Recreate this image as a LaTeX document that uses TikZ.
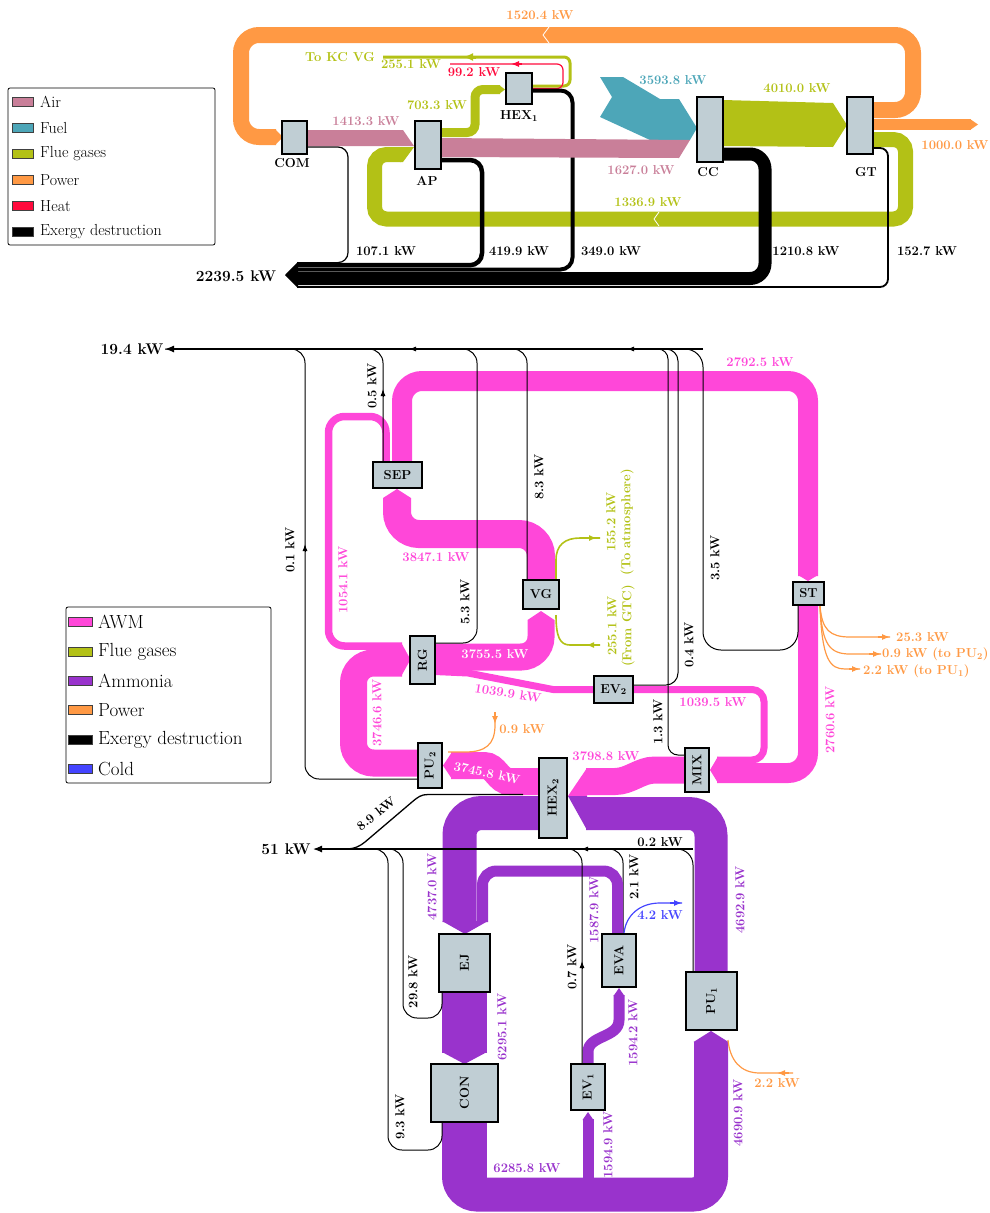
\documentclass[tikz,border=0pt]{standalone}
\usepackage{amsmath}
\usepackage{tikz}
\usetikzlibrary{arrows.meta}

\definecolor{air}{HTML}{C97F99}
\definecolor{fuel}{HTML}{4DA6B8}
\definecolor{flue}{HTML}{B3C116}
\definecolor{power}{HTML}{FF9944}
\definecolor{heat}{HTML}{FF0A3C}
\definecolor{awm}{HTML}{FF47D9}
\definecolor{ammonia}{HTML}{9933CC}
\definecolor{cold}{HTML}{4444FF}
\definecolor{boxfill}{HTML}{C0CED4}

\begin{document}
\begin{tikzpicture}[x=1pt,y=-1pt,
    compbox/.style={draw=black, line width=1.3pt, fill=boxfill, inner sep=0pt},
    bigbox/.style={compbox, line width=2.6pt},
    flowlbl/.style={font=\fontsize{13}{15}\selectfont\bfseries, inner sep=0pt},
    sumlbl/.style={font=\fontsize{15.5}{17}\selectfont\bfseries, inner sep=0pt},
    edline/.style={line width=1pt, rounded corners=14pt},
    smallarr/.style={-{Latex[length=7pt,width=5pt]}},
    legtext/.style={anchor=west, inner sep=0pt}]

\useasboundingbox (0,0) rectangle (989,1213);

% ---------------- Gas turbine cycle ----------------
% Power
\draw[power, line width=16pt, rounded corners=18pt] (873,110) -- (913,110) -- (913,35) -- (241,35) -- (241,137) -- (276,137);
\fill[power] (275,129) -- (283,137) -- (275,145) -- cycle;
\draw[power, line width=11pt] (873,124.5) -- (971,124.5);
\fill[power] (970,119) -- (978,124.5) -- (970,130) -- cycle;
\draw[white, line width=0.8pt] (549,27) -- (543,35) -- (549,43);

% Flue gases
\draw[flue, line width=15pt, rounded corners=12pt] (873,139.5) -- (905.5,139.5) -- (905.5,219) -- (374.5,219) -- (374.5,154.5) -- (401,154.5);
\fill[flue] (400,147) -- (414,147) -- (403,162) -- (400,162) -- cycle;
\draw[white, line width=0.8pt] (659,212) -- (654,219) -- (659,226);
\draw[flue, line width=9pt, rounded corners=8pt] (441,132.5) -- (475,132.5) -- (475,89.5) -- (500,89.5);
\fill[flue] (499,85) -- (505,89.5) -- (499,94) -- cycle;
\draw[flue, line width=3pt, rounded corners=6pt] (532,86) -- (570,86) -- (570,57) -- (383,57);
\draw[flue, line width=3pt, -{Latex[length=10pt,width=8pt]}] (476,57) -- (463,57);
\fill[flue] (723,100) -- (833,103) -- (847,125) -- (833,147) -- (723,146) -- cycle;

% Heat
\draw[heat, line width=1.2pt, rounded corners=6pt] (532,88.5) -- (563,88.5) -- (563,64) -- (450,64);
\draw[heat, line width=1.2pt, -{Latex[length=8pt,width=6pt]}] (522,64) -- (511,64);

% Fuel
\fill[fuel] (600,77) -- (623,77) -- (660,99) -- (679,99) -- (697,128) -- (690,140) -- (650,140) -- (600,117) -- (612,97) -- cycle;

% Exergy destruction
\draw[line width=1.2pt, rounded corners=10pt] (307,147) -- (348,147) -- (348,262.6) -- (297,262.6);
\draw[line width=4.5pt, rounded corners=12pt] (441,160) -- (482,160) -- (482,265.2) -- (297,265.2);
\draw[line width=4pt, rounded corners=12pt] (532,90.5) -- (572.5,90.5) -- (572.5,269.5) -- (297,269.5);
\draw[line width=13pt, rounded corners=15pt] (723,154) -- (765,154) -- (765,278.5) -- (297,278.5);
\draw[line width=1.8pt, rounded corners=8pt] (873,148) -- (888,148) -- (888,287) -- (297,287);
\fill (298,261.8) -- (285,275) -- (298,288) -- cycle;

% Air
\fill[air] (307,130) -- (403,130) -- (414,146) -- (307,146) -- cycle;
\fill[air] (441,138) -- (690,140) -- (679,158) -- (441,157) -- cycle;

% Components
\node[compbox, minimum width=25pt, minimum height=33pt] (com) at (294.5,137.5) {};
\node[compbox, minimum width=26pt, minimum height=48pt] (ap) at (428,145) {};
\node[compbox, minimum width=26pt, minimum height=31pt] (hexone) at (519,88.5) {};
\node[compbox, minimum width=26pt, minimum height=65pt] (cc) at (710,129.5) {};
\node[compbox, minimum width=26pt, minimum height=57pt] (gt) at (860,125.5) {};
\node[flowlbl] (comlbl) at (292,163) {COM};
\node[flowlbl] (aplbl) at (427,181) {AP};
\node[flowlbl] (hexonelbl) at (519,116) {HEX$_{\mathbf{1}}$};
\node[flowlbl] (cclbl) at (708,172) {CC};
\node[flowlbl] (gtlbl) at (866,172) {GT};

% Values
\node[flowlbl, power] (v1520) at (540,15) {1520.4 kW};
\node[flowlbl, flue] (vkc) at (340,57) {To KC VG};
\node[flowlbl, flue] (v2551a) at (411,64) {255.1 kW};
\node[flowlbl, heat] (v992) at (474,72) {99.2 kW};
\node[flowlbl, flue] (v7033) at (437,105) {703.3 kW};
\node[flowlbl, air] (v1413) at (366,121) {1413.3 kW};
\node[flowlbl, fuel] (v3593) at (673,80) {3593.8 kW};
\node[flowlbl, flue] (v4010) at (797,88) {4010.0 kW};
\node[flowlbl, air] (v1627) at (641,170) {1627.0 kW};
\node[flowlbl, flue] (v1336) at (648,202) {1336.9 kW};
\node[flowlbl, power] (v1000) at (955,145) {1000.0 kW};
\node[flowlbl] (v1071) at (386,251) {107.1 kW};
\node[flowlbl] (v4199) at (519,251) {419.9 kW};
\node[flowlbl] (v3490) at (611,251) {349.0 kW};
\node[flowlbl] (v1210) at (806,251) {1210.8 kW};
\node[flowlbl] (v1527) at (927,251) {152.7 kW};
\node[sumlbl] (v2239) at (236,276) {2239.5 kW};

% Legend
\draw[rounded corners=2pt, line width=0.8pt] (8,88) rectangle (215,245);
\foreach \c/\t [count=\i] in {air/Air, fuel/Fuel, flue/Flue gases, power/Power, heat/Heat, black/Exergy destruction} {
  \pgfmathsetmacro{\yy}{102+(\i-1)*26}
  \draw[fill=\c, draw=black!75, line width=0.6pt] (12,\yy-4.5) rectangle (33,\yy+4.5);
  \node[legtext, font=\fontsize{16}{18}\selectfont] (legA\i) at (40,\yy) {\t};
}

% ---------------- Cooling cycle ----------------
% AWM
\draw[awm, line width=7.5pt, rounded corners=16pt] (386,462) -- (386,416.5) -- (328.5,416.5) -- (328.5,646) -- (402,646);
\draw[awm, line width=20pt, rounded corners=20pt] (402,462) -- (402,381) -- (808,381) -- (808,576);
\fill[awm] (798,575) -- (808,581) -- (818,575) -- cycle;
\draw[awm, line width=20pt, rounded corners=20pt] (808,605) -- (808,773) -- (717,773);
\draw[awm, line width=7pt, rounded corners=12pt] (633,689.5) -- (764,689.5) -- (764,760) -- (717,760);
\fill[awm] (718,756.5) -- (710,770) -- (718,783) -- cycle;
\draw[awm, line width=28pt, rounded corners=22pt] (541,580) -- (541,534) -- (397,534) -- (397,498);
\fill[awm] (383,498) -- (397,489) -- (411,498) -- cycle;
\draw[awm, line width=27pt, rounded corners=20pt] (435,657) -- (541,657) -- (541,620);
\fill[awm] (527.5,620) -- (541,611) -- (554.5,620) -- cycle;
\draw[awm, line width=7pt, line join=round] (435,671.5) -- (468,673) -- (553,689.5) -- (594,689.5);
\draw[awm, line width=27pt, rounded corners=20pt] (418,763) -- (353.5,763) -- (353.5,663) -- (402,663);
\fill[awm] (401,642.3) -- (410.5,659.5) -- (401,676.5) -- cycle;
\draw[awm, line width=27pt] (539,781.5) -- (510,781.5) .. controls (498,781.5) and (496,765.5) .. (484,765.5) -- (451,765.5);
\fill[awm] (452,752) -- (443,765.5) -- (452,779) -- cycle;
\draw[awm, line width=27pt] (685,770) -- (655,770) .. controls (640,770) and (630,781.5) .. (615,781.5) -- (586,781.5);
\fill[awm] (587,768) -- (568,796) -- (587,796) -- cycle;

% Exergy destruction (hidden part)
\draw[edline] (623,934) -- (623,849) -- (600,849);

% Ammonia
\draw[ammonia, line width=34pt, rounded corners=22pt] (539,813) -- (459.5,813) -- (459.5,922);
\draw[ammonia, line width=11pt, rounded corners=14pt] (617.5,934) -- (617.5,871) -- (482.5,871) -- (482.5,922);
\fill[ammonia] (442,921) -- (465,934) -- (488,921) -- cycle;
\fill[ammonia] (442,992) rectangle (487,1053);
\fill[ammonia] (442,1052) -- (464.5,1064) -- (487,1052) -- cycle;
\draw[ammonia, line width=34pt, rounded corners=18pt] (459,1122) -- (459,1194.5) -- (711,1194.5) -- (711,1042);
\fill[ammonia] (459,1122) rectangle (487,1177.5);
\fill[ammonia] (693.5,1042) -- (711,1031) -- (728.5,1042) -- cycle;
\draw[ammonia, line width=11pt] (588,1180) -- (588,1119);
\fill[ammonia] (582.5,1120) -- (588,1112) -- (593.5,1120) -- cycle;
\draw[ammonia, line width=11pt] (588,1064) -- (588,1052) .. controls (588,1035) and (619,1038) .. (619,1020) -- (619,995);
\fill[ammonia] (613.5,996) -- (619,988) -- (624.5,996) -- cycle;
\draw[ammonia, line width=33pt, rounded corners=22pt] (711,972) -- (711,813.5) -- (586,813.5);
\fill[ammonia] (568,796) -- (587,796) -- (587,830) -- cycle;

% Flue gases at VG
\draw[flue, line width=1.6pt] (556,580) -- (556,560) .. controls (556,545) and (565,538) .. (580,538) -- (600,538);
\draw[flue, line width=1.6pt, -{Latex[length=8pt,width=6pt]}] (585,538) -- (597,538);
\draw[flue, line width=1.6pt] (600,645) -- (570,645) .. controls (560,645) and (556,637) .. (556,615);
\draw[flue, line width=1.6pt, -{Latex[length=8pt,width=6pt]}] (598,645) -- (586,645);

% Power
\draw[power, line width=1.2pt] (820,606) .. controls (822,630) and (830,637) .. (850,637) -- (890,637);
\draw[power, line width=1.2pt, -{Latex[length=8pt,width=6pt]}] (878,637) -- (890,637);
\draw[power, line width=1.2pt] (820,606) .. controls (822,645) and (830,654) .. (850,654) -- (881,654);
\draw[power, line width=1.2pt, -{Latex[length=8pt,width=6pt]}] (869,654) -- (881,654);
\draw[power, line width=1.2pt] (820,606) .. controls (822,660) and (830,669) .. (845,669) -- (860,669);
\draw[power, line width=1.2pt, -{Latex[length=8pt,width=6pt]}] (849,669) -- (860,669);
\draw[power, line width=1.2pt] (495,712) -- (495,725) .. controls (495,745) and (485,752) .. (465,752) -- (448,752);
\draw[power, line width=1.2pt, -{Latex[length=8pt,width=6pt]}] (495,712) -- (495,724);
\draw[power, line width=1.2pt] (793,1073) -- (760,1073) .. controls (740,1073) and (730,1060) .. (728,1040);
\draw[power, line width=1.2pt, -{Latex[length=8pt,width=6pt]}] (789,1073) -- (777,1073);

% Cold
\draw[cold, line width=1.2pt] (624,933) .. controls (626,915) and (640,903) .. (660,903) -- (682,903);
\draw[cold, line width=1.2pt, -{Latex[length=8pt,width=6pt]}] (670,903) -- (682,903);

% Exergy destruction
\draw[edline] (418,779) -- (305,779) -- (305,349) -- (165,349);
\draw[edline] (383,462) -- (383,349) -- (360,349);
\draw[edline] (435,643) -- (477,643) -- (477,349) -- (455,349);
\draw[edline] (527,580) -- (527,349) -- (505,349);
\draw[edline, rounded corners=12pt] (633,685) -- (678,685) -- (678,349) -- (655,349);
\draw[edline, rounded corners=10pt] (686,755) -- (668,755) -- (668,349) -- (645,349);
\draw[edline, rounded corners=18pt] (798,605) -- (798,650) -- (703,650) -- (703,349) -- (600,349);
\draw[line width=1.2pt, -{Latex[length=9pt,width=7pt]}] (703,349) -- (165,349);
\draw[line width=1pt, smallarr] (418,349) -- (409,349);
\draw[line width=1pt, smallarr] (636,349) -- (627,349);
\draw[line width=1pt, smallarr] (305,552) -- (305,544);
\draw[line width=1pt, smallarr] (383,397) -- (383,389);

\draw[line width=1.3pt] (523,794.5) -- (428,794.5) .. controls (421,794.5) and (418,797) .. (412,802) -- (365,842) .. controls (360,846) and (355,849) .. (345,849);
\draw[edline] (442,992) -- (442,1018) -- (403,1018) -- (403,849) -- (385,849);
\draw[edline] (442,1122) -- (442,1150) -- (388,1150) -- (388,849) -- (370,849);
\draw[edline] (582,1064) -- (582,849) -- (560,849);
\draw[edline, rounded corners=16pt] (693,972) -- (693,849) -- (600,849);
\draw[line width=1.2pt, -{Latex[length=9pt,width=7pt]}] (693,849) -- (313,849);
\draw[line width=1pt, smallarr] (590,849) -- (581,849);
\draw[line width=1pt, smallarr] (582,969) -- (582,961);

% Components
\node[compbox, line width=1.8pt, minimum width=49pt, minimum height=26pt] (sep) at (397.5,475) {};
\node[compbox, line width=1.8pt, minimum width=36pt, minimum height=29pt] (vg) at (541,594.5) {};
\node[compbox, line width=1.8pt, minimum width=25pt, minimum height=48pt] (rg) at (422.5,660) {};
\node[compbox, line width=1.8pt, minimum width=39pt, minimum height=27pt] (evtwo) at (613.5,689.5) {};
\node[compbox, line width=1.8pt, minimum width=31pt, minimum height=23pt] (st) at (808.5,593.5) {};
\node[compbox, line width=1.8pt, minimum width=24pt, minimum height=45pt] (putwo) at (430,765.5) {};
\node[compbox, line width=1.8pt, minimum width=28pt, minimum height=80pt] (hextwo) at (553,798) {};
\node[compbox, line width=1.8pt, minimum width=24pt, minimum height=44pt] (mix) at (697,770) {};
\node[bigbox, minimum width=51pt, minimum height=58pt] (ej) at (464.5,963) {};
\node[bigbox, minimum width=67pt, minimum height=58pt] (con) at (464.5,1093) {};
\node[bigbox, minimum width=34pt, minimum height=46pt] (evone) at (588,1087) {};
\node[bigbox, minimum width=34pt, minimum height=53pt] (eva) at (619,960.5) {};
\node[bigbox, minimum width=51pt, minimum height=58pt] (puone) at (711.5,1001) {};
\node[flowlbl] (seplbl) at (sep) {SEP};
\node[flowlbl] (vglbl) at (vg) {VG};
\node[flowlbl, rotate=90] (rglbl) at (rg) {RG};
\node[flowlbl] (evtwolbl) at (evtwo) {EV$_{\mathbf{2}}$};
\node[flowlbl] (stlbl) at (st) {ST};
\node[flowlbl, rotate=90] (putwolbl) at (putwo) {PU$_{\mathbf{2}}$};
\node[flowlbl, rotate=90] (hextwolbl) at (hextwo) {HEX$_{\mathbf{2}}$};
\node[flowlbl, rotate=90] (mixlbl) at (mix) {MIX};
\node[flowlbl, rotate=90] (ejlbl) at (ej) {EJ};
\node[flowlbl, rotate=90] (conlbl) at (con) {CON};
\node[flowlbl, rotate=90] (evonelbl) at (evone) {EV$_{\mathbf{1}}$};
\node[flowlbl, rotate=90] (evalbl) at (eva) {EVA};
\node[flowlbl, rotate=90] (puonelbl) at (puone) {PU$_{\mathbf{1}}$};

% Values
\node[sumlbl] (v194) at (132,349) {19.4 kW};
\node[sumlbl] (v51) at (286,849) {51 kW};
\node[flowlbl, rotate=90] (v01) at (290,550) {0.1 kW};
\node[flowlbl, rotate=90] (v05) at (372,386) {0.5 kW};
\node[flowlbl, rotate=90] (v53) at (465,602) {5.3 kW};
\node[flowlbl, rotate=90] (v83) at (539,477) {8.3 kW};
\node[flowlbl, rotate=90] (v35) at (715,558) {3.5 kW};
\node[flowlbl, rotate=90] (v04) at (689,645) {0.4 kW};
\node[flowlbl, rotate=90] (v13) at (658,722) {1.3 kW};
\node[flowlbl, awm] (v2792) at (760,362) {2792.5 kW};
\node[flowlbl, awm, rotate=90] (v2760) at (830,720) {2760.6 kW};
\node[flowlbl, awm] (v10395) at (713,702) {1039.5 kW};
\node[flowlbl, awm] (v3847) at (436,557) {3847.1 kW};
\node[flowlbl, awm, rotate=90] (v1054) at (343,580) {1054.1 kW};
\node[flowlbl, white] (v3755) at (495,654) {3755.5 kW};
\node[flowlbl, awm, rotate=-9] (v10399) at (508,693) {1039.9 kW};
\node[flowlbl, awm, rotate=90] (v37466) at (377,713) {3746.6 kW};
\node[flowlbl, white, rotate=-12] (v37458) at (487,773) {3745.8 kW};
\node[flowlbl, awm] (v3798) at (606,756) {3798.8 kW};
\node[flowlbl, flue, rotate=90, align=center] (v1552) at (620,522) {155.2 kW\\(To atmosphere)};
\node[flowlbl, flue, rotate=90, align=center] (v2551b) at (621,626) {255.1 kW\\(From GTC)};
\node[flowlbl, power, anchor=west] (v253) at (896,637) {25.3 kW};
\node[flowlbl, power, anchor=west] (v09a) at (882,654) {0.9 kW (to PU$_{\mathbf{2}}$)};
\node[flowlbl, power, anchor=west] (v22a) at (863,671) {2.2 kW (to PU$_{\mathbf{1}}$)};
\node[flowlbl, power] (v09b) at (522,729) {0.9 kW};
\node[flowlbl, rotate=38] (v89) at (376,814) {8.9 kW};
\node[flowlbl, ammonia, rotate=90] (v4737) at (432,887) {4737.0 kW};
\node[flowlbl, ammonia, rotate=90] (v6295) at (502,1027) {6295.1 kW};
\node[flowlbl, ammonia] (v6285) at (527,1168) {6285.8 kW};
\node[flowlbl, ammonia, rotate=90] (v15879) at (594,910) {1587.9 kW};
\node[flowlbl, ammonia, rotate=90] (v15942) at (633,1033) {1594.2 kW};
\node[flowlbl, ammonia, rotate=90] (v15949) at (608,1145) {1594.9 kW};
\node[flowlbl, ammonia, rotate=90] (v4692) at (740,900) {4692.9 kW};
\node[flowlbl, ammonia, rotate=90] (v4690) at (738,1113) {4690.9 kW};
\node[flowlbl, rotate=90] (v298) at (413,982) {29.8 kW};
\node[flowlbl, rotate=90] (v93) at (400,1117) {9.3 kW};
\node[flowlbl, rotate=90] (v07) at (572,967) {0.7 kW};
\node[flowlbl, rotate=90] (v21) at (634,877) {2.1 kW};
\node[flowlbl] (v02) at (660,842) {0.2 kW};
\node[flowlbl, cold] (v42) at (660,915) {4.2 kW};
\node[flowlbl, power] (v22b) at (777,1083) {2.2 kW};

% Legend
\draw[rounded corners=2pt, line width=0.8pt] (66,607) rectangle (271,783);
\foreach \c/\t [count=\i] in {awm/AWM, flue/Flue gases, ammonia/Ammonia, power/Power, black/Exergy destruction, cold/Cold} {
  \pgfmathsetmacro{\yy}{622+(\i-1)*29.4}
  \draw[fill=\c, draw=black!75, line width=0.6pt] (68,\yy-4.5) rectangle (92,\yy+4.5);
  \node[legtext, font=\fontsize{19}{21}\selectfont] (legB\i) at (98,\yy) {\t};
}
\end{tikzpicture}
\end{document}
